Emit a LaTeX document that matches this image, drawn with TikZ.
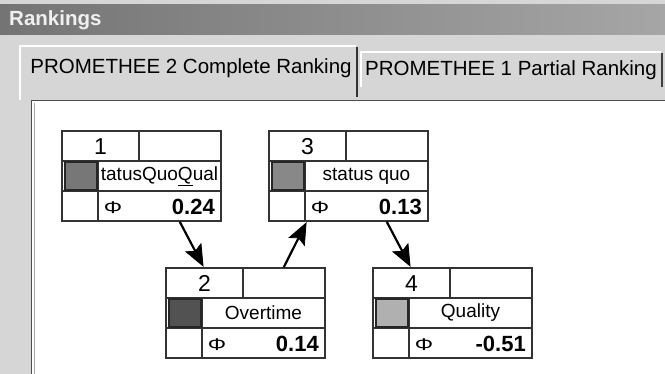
\documentclass[tikz,border=0pt]{standalone}
\usepackage{fontspec}
\setmainfont{Liberation Sans}
\usetikzlibrary{calc}

\definecolor{panel}{HTML}{D6D6D6}
\definecolor{titleL}{HTML}{747474}
\definecolor{titleR}{HTML}{A6A6A6}
\definecolor{frameline}{HTML}{333333}
\definecolor{swA}{HTML}{777777}
\definecolor{swB}{HTML}{525252}
\definecolor{swC}{HTML}{888888}
\definecolor{swD}{HTML}{B0B0B0}

\tikzset{
  tabtext/.style={font=\fontsize{20.5}{24}\selectfont, inner sep=0pt},
  rbox/.style={draw=frameline, line width=1.5pt, minimum width=159pt,
               minimum height=90pt, inner sep=0pt, fill=white},
  cell/.style={draw=frameline, line width=1.5pt},
  numtext/.style={font=\fontsize{23}{26}\selectfont, inner sep=0pt},
  labtext/.style={font=\fontsize{19}{22}\selectfont, inner sep=0pt},
  phitext/.style={font=\fontsize{17}{19}\selectfont, inner sep=0pt, xscale=1.35},
  valtext/.style={font=\bfseries\fontsize{22}{26}\selectfont, inner sep=0pt, anchor=east},
  rankline/.style={draw=black, line width=2.2pt},
  rankhead/.style={fill=black, draw=black, line width=0.8pt, line join=miter},
}

% one ranking box: name, left x, top y, rank, label, swatch colour, net flow
\newcommand\rankbox[7]{%
  \node[rbox] (#1) at (#2+79.5,#3+45) {};
  \draw[cell] (#2,#3+30) -- (#2+159,#3+30);
  \draw[cell] (#2,#3+60) -- (#2+159,#3+60);
  \draw[cell] (#2+77,#3) -- (#2+77,#3+30);
  \draw[cell] (#2+36,#3+30) -- (#2+36,#3+90);
  \fill[#6] (#2+3,#3+31) rectangle (#2+35,#3+59);
  \draw[black!85, line width=1.5pt] (#2+3,#3+59) -- (#2+3,#3+31) -- (#2+35,#3+31) -- (#2+35,#3+59) -- cycle;
  \node[numtext] (#1-num) at (#2+38.5,#3+15.5) {#4};
  \node[labtext] (#1-lab) at (#2+97.5,#3+45) {#5};
  \node[phitext] (#1-phi) at (#2+51,#3+76.5) {Φ};
  \node[valtext] (#1-val) at (#2+153,#3+75.5) {#7};
}

% connector from coordinate #1 to coordinate #2 with a large filled head
\newcommand\rankarrow[2]{%
  \draw[rankline] (#1) -- ($(#2)!17pt!(#1)$);
  \path[rankhead] ($(#2)!1.5pt!(#1)$)
    -- ($(#2)!22pt!(#1)!8.5pt!90:(#1)$)
    -- ($(#2)!18pt!(#1)$)
    -- ($(#2)!22pt!(#1)!8.5pt!-90:(#1)$) -- cycle;
}

\begin{document}
\begin{tikzpicture}[x=1pt,y=-1pt]
  \useasboundingbox (0,0) rectangle (665,374);
  \fill[panel] (0,0) rectangle (665,374);

  % window title bar
  \shade[left color=titleL, right color=titleR] (0,5) rectangle (665,35);
  \node[anchor=west, inner sep=0pt, font=\bfseries\fontsize{20.5}{24}\selectfont,
        text=white!94!black] (title) at (9,20) {Rankings};

  % inactive tab
  \draw[white, line width=1.5pt] (361,87) -- (361,52) -- (661,52);
  \draw[black!75, line width=2pt] (662,53) -- (662,87);
  \node[tabtext] (tab2) at (511,70) {PROMETHEE 1 Partial Ranking};

  % active tab
  \draw[white, line width=1.5pt] (20,100) -- (20,46) -- (356,46);
  \draw[black!80, line width=2pt] (357,47) -- (357,97);
  \node[tabtext] (tab1) at (191,68) {PROMETHEE 2 Complete Ranking};

  % drawing area
  \fill[white] (31,100) rectangle (665,374);
  \draw[black!70, line width=1.5pt] (31.5,374) -- (31.5,100.5) -- (665,100.5);
  \draw[black!35, line width=1pt] (34.5,374) -- (34.5,103);

  % ranking boxes
  \rankbox{b1}{62}{131}{1}{tatusQuo\underline{Q}ual}{swA}{0.24}
  \rankbox{b3}{269}{131}{3}{status quo}{swC}{0.13}
  \rankbox{b2}{166}{268}{2}{Overtime}{swB}{0.14}
  \rankbox{b4}{373}{268}{4}{Quality}{swD}{-0.51}

  % connector end points on the box borders
  \coordinate (b1out) at ($(b1.south west)+(118.5,0)$);
  \coordinate (b2in)  at ($(b2.north west)+(38.5,0)$);
  \coordinate (b2out) at ($(b2.north west)+(118.5,0)$);
  \coordinate (b3in)  at ($(b3.south west)+(38.5,0)$);
  \coordinate (b3out) at ($(b3.south west)+(118.5,0)$);
  \coordinate (b4in)  at ($(b4.north west)+(38.5,0)$);

  % preference arrows
  \rankarrow{b1out}{b2in}
  \rankarrow{b2out}{b3in}
  \rankarrow{b3out}{b4in}
\end{tikzpicture}
\end{document}
